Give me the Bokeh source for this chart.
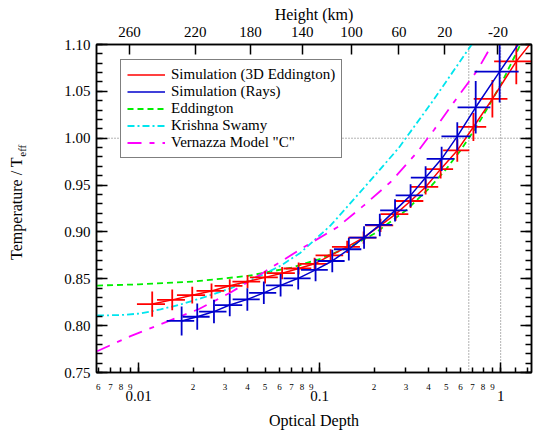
from bokeh.plotting import figure
from bokeh.models import (Range1d, LogAxis, LinearAxis, FixedTicker, Span,
                          Legend, LegendItem, PrintfTickFormatter, CustomJSTickFormatter)
from bokeh.embed import file_html
from bokeh.resources import INLINE

# ---------------- data ----------------
# Simulation (3D Eddington) points
red_tau = [0.0119, 0.01535, 0.0198, 0.0253, 0.0319, 0.0400, 0.0500, 0.0621, 0.0766, 0.0938,
           0.115, 0.142, 0.175, 0.217, 0.263, 0.318, 0.385, 0.466, 0.576, 0.707, 0.900, 1.22]
red_T = [0.823, 0.8275, 0.8325, 0.837, 0.8425, 0.847, 0.8515, 0.856, 0.861, 0.866,
         0.875, 0.884, 0.894, 0.907, 0.919, 0.933, 0.948, 0.967, 0.987, 1.012, 1.042, 1.082]
red_dtau = [0.0021, 0.0027, 0.0035, 0.0044, 0.0056, 0.0070, 0.0088, 0.0109, 0.0134, 0.0164,
            0.020, 0.025, 0.031, 0.038, 0.046, 0.056, 0.067, 0.080, 0.095, 0.125, 0.19, 0.30]
red_dT = [0.0135, 0.011, 0.009, 0.008, 0.007, 0.007, 0.0065, 0.0065, 0.0065, 0.0065,
          0.0065, 0.0065, 0.0065, 0.007, 0.007, 0.0075, 0.008, 0.010, 0.012, 0.015, 0.020, 0.0245]
red_curve_tau = red_tau + [1.46]
red_curve_T = red_T + [1.101]

# Simulation (Rays) points
blue_tau = [0.0173, 0.0211, 0.0261, 0.0319, 0.0399, 0.0492, 0.0609, 0.0762, 0.0950, 0.1175,
            0.145, 0.176, 0.215, 0.261, 0.318, 0.385, 0.472, 0.576, 0.728, 0.987]
blue_T = [0.805, 0.8095, 0.815, 0.822, 0.828, 0.835, 0.843, 0.8505, 0.8595, 0.869,
          0.8815, 0.894, 0.9075, 0.923, 0.939, 0.958, 0.978, 1.002, 1.033, 1.071]
blue_dtau = [0.0030, 0.0036, 0.0045, 0.0055, 0.0068, 0.0084, 0.0104, 0.013, 0.016, 0.020,
             0.025, 0.030, 0.037, 0.045, 0.055, 0.066, 0.082, 0.105, 0.15, 0.27]
blue_dT = [0.0155, 0.014, 0.0125, 0.012, 0.012, 0.012, 0.012, 0.012, 0.012, 0.012,
           0.012, 0.012, 0.012, 0.012, 0.012, 0.012, 0.013, 0.015, 0.028, 0.033]
blue_curve_tau = blue_tau + [1.257]
blue_curve_T = blue_T + [1.101]

# Eddington
edd_tau = [0.0059, 0.01, 0.02, 0.04, 0.07, 0.1, 0.15, 0.2, 0.3, 0.4, 0.5, 0.6, 0.7, 0.8, 1.0, 1.2, 1.3]
edd_T = [0.8428, 0.844, 0.847, 0.853, 0.862, 0.871, 0.885, 0.898, 0.923, 0.946, 0.967, 0.987,
         1.006, 1.024, 1.057, 1.088, 1.102]

# Krishna Swamy
ks_tau = [0.0059, 0.00796, 0.01026, 0.01323, 0.01706, 0.02201, 0.03223, 0.04721, 0.06088,
          0.07852, 0.1150, 0.1750, 0.2732, 0.4265, 0.6977]
ks_T = [0.8108, 0.8113, 0.8130, 0.8173, 0.8226, 0.8291, 0.8398, 0.8532, 0.8639,
        0.8779, 0.9069, 0.9466, 0.9895, 1.0410, 1.1011]

# Vernazza Model "C"
vz_tau = [0.0059, 0.009033, 0.01464, 0.02146, 0.03223, 0.04904, 0.08157, 0.1253, 0.1757,
          0.2468, 0.3466, 0.4281, 0.5521, 0.7434, 0.9033]
vz_T = [0.7727, 0.7888, 0.8049, 0.8175, 0.8353, 0.8568, 0.8836, 0.9050, 0.9283,
        0.9533, 0.9852, 1.0088, 1.0385, 1.0724, 1.1011]

# reference lines
ref_tau = [2.0 / 3.0, 1.0]
ref_T = [1.0]

# axes ticks / labels
x_major = [0.01, 0.1, 1.0]
x_minor = [0.006, 0.007, 0.008, 0.009, 0.02, 0.03, 0.04, 0.05, 0.06, 0.07, 0.08, 0.09,
           0.2, 0.3, 0.4, 0.5, 0.6, 0.7, 0.8, 0.9, 1.2, 1.4]
x_minor_labels = ["6", "7", "8", "9", "2", "3", "4", "5", "6", "7", "8", "9",
                  "2", "3", "4", "5", "6", "7", "8", "9", "", ""]
x_major_labels = ["0.01", "0.1", "1"]
y_major = [0.75, 0.80, 0.85, 0.90, 0.95, 1.00, 1.05, 1.10]
y_minor = [round(0.75 + 0.01 * i, 2) for i in range(36)]
heights = [260, 220, 180, 140, 100, 60, 20, -20]
height_tau = [0.00892, 0.02058, 0.04158, 0.0802, 0.1502, 0.2742, 0.4905, 0.9663]

SERIF = "Liberation Serif"
RED = "#ff0000"
BLUE = "#0000cc"
GREEN = "#00ee00"
CYAN = "#00e5ee"
MAGENTA = "#ff00ff"
NBSP = "\u00a0"

p = figure(width=537, height=431, x_axis_type="log",
           x_range=Range1d(0.00586, 1.48), y_range=Range1d(0.75, 1.10),
           x_axis_location=None, y_axis_location=None,
           output_backend="svg", toolbar_location=None,
           min_border_left=96, min_border_right=6, min_border_top=44, min_border_bottom=59)
p.grid.visible = False
p.outline_line_color = "black"
p.outline_line_width = 1.5
p.background_fill_color = "white"
p.border_fill_color = "white"


def style(ax, tin, minin, size="15px"):
    ax.major_tick_in = tin
    ax.major_tick_out = 0
    ax.minor_tick_in = minin
    ax.minor_tick_out = 0
    ax.axis_line_color = "black"
    ax.axis_line_width = 1.5
    ax.major_tick_line_width = 1.5
    ax.minor_tick_line_width = 1.5
    ax.major_tick_line_color = "black"
    ax.minor_tick_line_color = "black"
    ax.major_label_text_font = SERIF
    ax.major_label_text_font_size = size
    ax.major_label_text_color = "black"
    ax.axis_label_text_font = SERIF
    ax.axis_label_text_font_size = "16px"
    ax.axis_label_text_font_style = "normal"
    ax.axis_label_text_color = "black"


def title_axis(ax):
    ax.axis_line_color = None
    ax.major_tick_line_color = None
    ax.minor_tick_line_color = None
    ax.major_tick_in = 0
    ax.major_tick_out = 0
    ax.minor_tick_in = 0
    ax.minor_tick_out = 0
    ax.major_label_standoff = 0


# bottom axis 1: all ticks, small digit labels on the minor positions
all_ticks = sorted(x_minor + x_major)
all_labels = {t: l for t, l in zip(x_minor, x_minor_labels)}
xb1 = LogAxis(ticker=FixedTicker(ticks=all_ticks, minor_ticks=x_major),
              formatter=CustomJSTickFormatter(
                  args=dict(lab=[all_labels.get(t, "") for t in all_ticks]),
                  code="return lab[index]"))
style(xb1, 5, 10, "9px")
xb1.major_label_standoff = 11
p.add_layout(xb1, "below")

# bottom axis 2: decade labels and title
xb2 = LogAxis(ticker=FixedTicker(ticks=x_major),
              formatter=CustomJSTickFormatter(args=dict(lab=x_major_labels),
                                              code="return lab[index]"))
style(xb2, 0, 0)
title_axis(xb2)
xb2.major_label_standoff = -2
xb2.axis_label = "Optical Depth"
xb2.axis_label_standoff = 8
p.add_layout(xb2, "below")

# top axis (height)
xt = LogAxis(ticker=FixedTicker(ticks=height_tau),
             formatter=CustomJSTickFormatter(args=dict(lab=[str(h) for h in heights]),
                                             code="return lab[index]"))
style(xt, 10, 0)
xt.major_label_standoff = 8
xt.axis_label = "Height (km)"
xt.axis_label_standoff = 1
p.add_layout(xt, "above")

# left axis
yl = LinearAxis(ticker=FixedTicker(ticks=y_major, minor_ticks=y_minor),
                formatter=PrintfTickFormatter(format="%.2f"))
style(yl, 11, 6)
yl.major_label_standoff = 6
p.add_layout(yl, "left")

# left title: subscript part then main part
ye = LinearAxis(ticker=FixedTicker(ticks=[]))
style(ye, 0, 0)
title_axis(ye)
ye.axis_label = NBSP * 42 + "eff"
ye.axis_label_text_font_size = "11px"
ye.axis_label_standoff = 34
p.add_layout(ye, "left")

yt = LinearAxis(ticker=FixedTicker(ticks=[]))
style(yt, 0, 0)
title_axis(yt)
yt.axis_label = "Temperature / T"
yt.axis_label_standoff = -12
p.add_layout(yt, "left")

# right axis (ticks only)
yr = LinearAxis(ticker=FixedTicker(ticks=y_major, minor_ticks=y_minor),
                formatter=CustomJSTickFormatter(code="return ''"))
style(yr, 11, 6)
yr.major_label_standoff = 0
p.add_layout(yr, "right")

# reference dotted lines
for t in ref_tau:
    p.add_layout(Span(location=t, dimension="height", line_dash="1 2", line_color="#666666",
                      line_width=1, level="underlay"))
for T in ref_T:
    p.add_layout(Span(location=T, dimension="width", line_dash="1 2", line_color="#666666",
                      line_width=1, level="underlay"))

# curves
r_edd = p.line(edd_tau, edd_T, line_color=GREEN, line_width=1.8, line_dash="6 4")
r_ks = p.line(ks_tau, ks_T, line_color=CYAN, line_width=1.8, line_dash="7 3 2 3")
r_vz = p.line(vz_tau, vz_T, line_color=MAGENTA, line_width=1.8, line_dash="14 8 5 8")

# red series
r_red = p.line(red_curve_tau, red_curve_T, line_color=RED, line_width=1.5)
p.segment(x0=[t - d for t, d in zip(red_tau, red_dtau)], x1=[t + d for t, d in zip(red_tau, red_dtau)],
          y0=red_T, y1=red_T, line_color=RED, line_width=1.8)
p.segment(x0=red_tau, x1=red_tau, y0=[v - d for v, d in zip(red_T, red_dT)],
          y1=[v + d for v, d in zip(red_T, red_dT)], line_color=RED, line_width=1.8)

# blue series
r_blue = p.line(blue_curve_tau, blue_curve_T, line_color=BLUE, line_width=1.5)
p.segment(x0=[t - d for t, d in zip(blue_tau, blue_dtau)], x1=[t + d for t, d in zip(blue_tau, blue_dtau)],
          y0=blue_T, y1=blue_T, line_color=BLUE, line_width=1.8)
p.segment(x0=blue_tau, x1=blue_tau, y0=[v - d for v, d in zip(blue_T, blue_dT)],
          y1=[v + d for v, d in zip(blue_T, blue_dT)], line_color=BLUE, line_width=1.8)

# legend
legend = Legend(items=[
    LegendItem(label="Simulation (3D Eddington)", renderers=[r_red]),
    LegendItem(label="Simulation (Rays)", renderers=[r_blue]),
    LegendItem(label="Eddington", renderers=[r_edd]),
    LegendItem(label="Krishna Swamy", renderers=[r_ks]),
    LegendItem(label='Vernazza Model "C"', renderers=[r_vz]),
], location=(24, 214))
legend.label_text_font = SERIF
legend.label_text_font_size = "15px"
legend.label_text_color = "black"
legend.glyph_width = 38
legend.glyph_height = 17
legend.label_height = 17
legend.label_standoff = 6
legend.spacing = 0
legend.padding = 6
legend.margin = 0
legend.border_line_color = "black"
legend.border_line_width = 1.5
legend.background_fill_color = "white"
legend.background_fill_alpha = 1.0
p.add_layout(legend)

open("out.html", "w").write(file_html(p, INLINE))
